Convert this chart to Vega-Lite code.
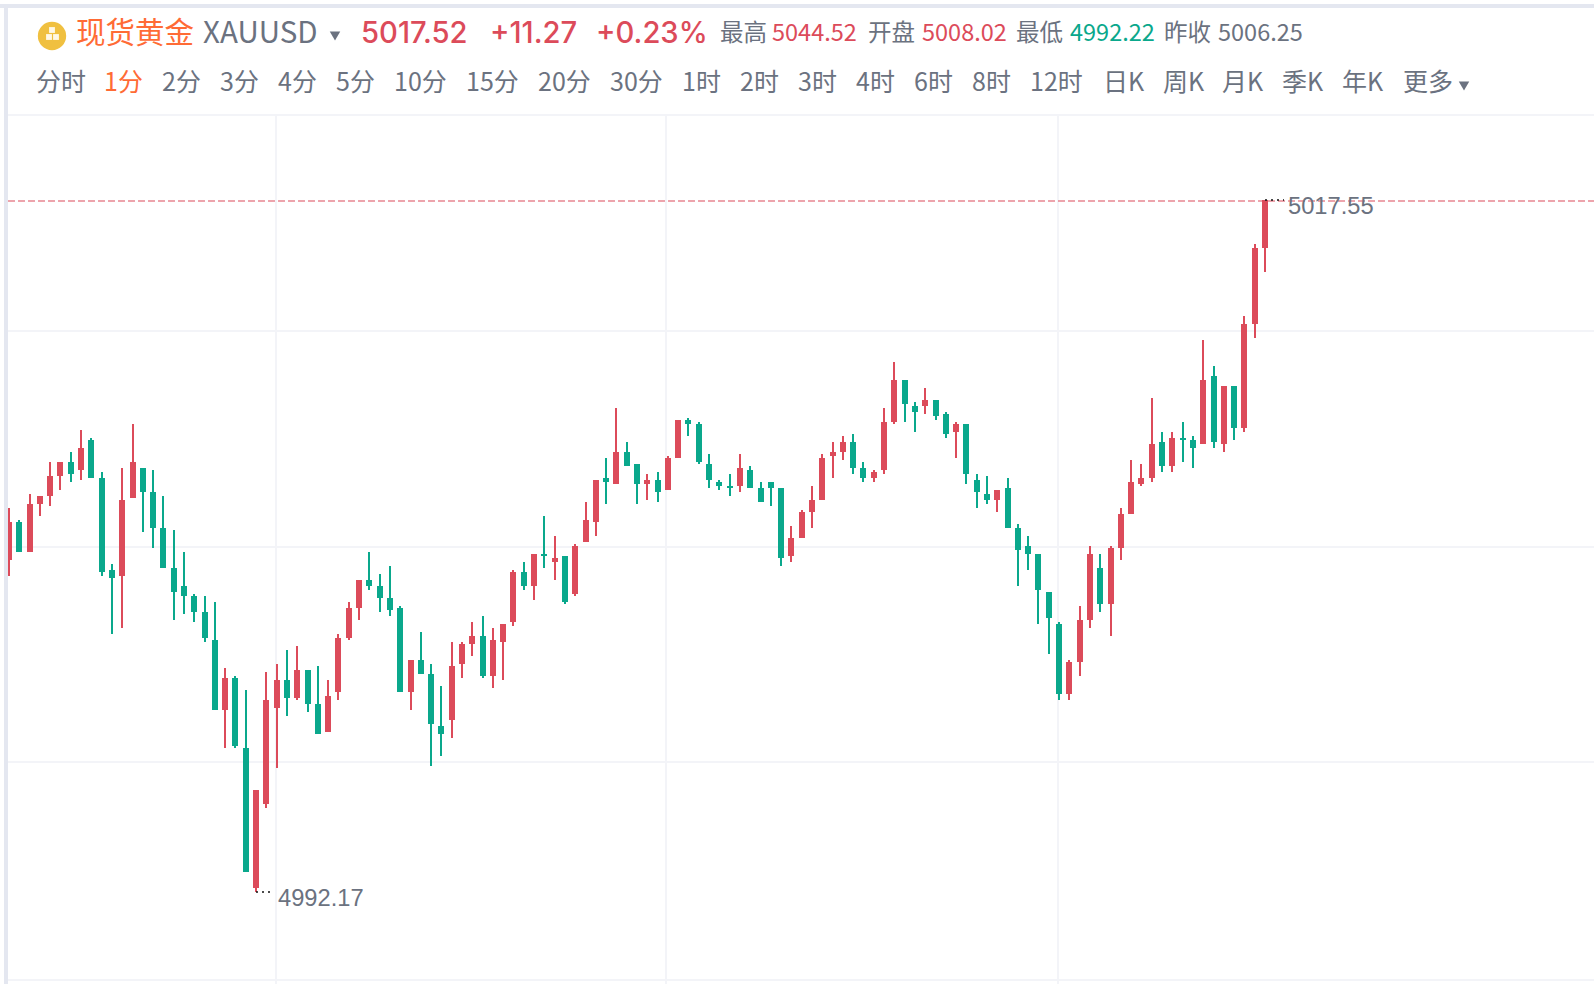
{
  "$schema": "https://vega.github.io/schema/vega-lite/v6.json",
  "description": "XAUUSD 1 minute candles",
  "width": 1594,
  "height": 984,
  "padding": 0,
  "autosize": {"type": "none"},
  "background": "#ffffff",
  "view": {"stroke": null},
  "datasets": {
    "candles": [
      {"t":0,"open":5004.35,"close":5005.74,"high":5006.25,"low":5003.76,"dir":"up"},
      {"t":1,"open":5005.74,"close":5004.64,"high":5005.81,"low":5004.64,"dir":"down"},
      {"t":2,"open":5004.64,"close":5006.40,"high":5006.77,"low":5004.64,"dir":"up"},
      {"t":3,"open":5006.40,"close":5006.69,"high":5006.69,"low":5005.96,"dir":"up"},
      {"t":4,"open":5006.69,"close":5007.43,"high":5007.94,"low":5006.33,"dir":"up"},
      {"t":5,"open":5007.43,"close":5007.94,"high":5007.94,"low":5006.91,"dir":"up"},
      {"t":6,"open":5007.94,"close":5007.50,"high":5008.31,"low":5007.20,"dir":"down"},
      {"t":7,"open":5007.65,"close":5008.45,"high":5009.11,"low":5007.28,"dir":"up"},
      {"t":8,"open":5008.74,"close":5007.35,"high":5008.82,"low":5007.35,"dir":"down"},
      {"t":9,"open":5007.35,"close":5003.91,"high":5007.57,"low":5003.76,"dir":"down"},
      {"t":10,"open":5003.98,"close":5003.68,"high":5004.20,"low":5001.63,"dir":"down"},
      {"t":11,"open":5003.76,"close":5006.55,"high":5007.72,"low":5001.85,"dir":"up"},
      {"t":12,"open":5006.62,"close":5007.94,"high":5009.33,"low":5006.62,"dir":"up"},
      {"t":13,"open":5007.72,"close":5006.84,"high":5007.72,"low":5005.37,"dir":"down"},
      {"t":14,"open":5006.84,"close":5005.52,"high":5007.65,"low":5004.79,"dir":"down"},
      {"t":15,"open":5005.52,"close":5004.05,"high":5006.69,"low":5004.05,"dir":"down"},
      {"t":16,"open":5004.05,"close":5003.17,"high":5005.45,"low":5002.15,"dir":"down"},
      {"t":17,"open":5003.39,"close":5003.03,"high":5004.64,"low":5002.37,"dir":"down"},
      {"t":18,"open":5003.03,"close":5002.44,"high":5003.10,"low":5002.07,"dir":"down"},
      {"t":19,"open":5002.44,"close":5001.49,"high":5003.03,"low":5001.34,"dir":"down"},
      {"t":20,"open":5001.41,"close":4998.85,"high":5002.81,"low":4998.85,"dir":"down"},
      {"t":21,"open":4998.85,"close":5000.02,"high":5000.39,"low":4997.45,"dir":"up"},
      {"t":22,"open":5000.02,"close":4997.53,"high":5000.09,"low":4997.45,"dir":"down"},
      {"t":23,"open":4997.45,"close":4992.90,"high":4999.58,"low":4992.90,"dir":"down"},
      {"t":24,"open":4992.32,"close":4995.91,"high":4995.91,"low":4992.17,"dir":"up"},
      {"t":25,"open":4995.40,"close":4999.21,"high":5000.24,"low":4995.25,"dir":"up"},
      {"t":26,"open":4998.92,"close":4999.95,"high":5000.53,"low":4996.72,"dir":"up"},
      {"t":27,"open":4999.95,"close":4999.29,"high":5001.05,"low":4998.63,"dir":"down"},
      {"t":28,"open":4999.29,"close":5000.31,"high":5001.19,"low":4999.21,"dir":"up"},
      {"t":29,"open":5000.31,"close":4999.07,"high":5000.31,"low":4998.77,"dir":"down"},
      {"t":30,"open":4999.07,"close":4997.96,"high":5000.46,"low":4997.96,"dir":"down"},
      {"t":31,"open":4998.04,"close":4999.36,"high":4999.95,"low":4998.04,"dir":"up"},
      {"t":32,"open":4999.51,"close":5001.49,"high":5001.63,"low":4999.21,"dir":"up"},
      {"t":33,"open":5001.49,"close":5002.59,"high":5002.81,"low":5001.41,"dir":"up"},
      {"t":34,"open":5002.59,"close":5003.61,"high":5003.61,"low":5002.15,"dir":"up"},
      {"t":35,"open":5003.61,"close":5003.39,"high":5004.64,"low":5003.25,"dir":"down"},
      {"t":36,"open":5003.39,"close":5002.95,"high":5003.83,"low":5002.44,"dir":"down"},
      {"t":37,"open":5002.95,"close":5002.51,"high":5004.13,"low":5002.29,"dir":"down"},
      {"t":38,"open":5002.59,"close":4999.51,"high":5002.66,"low":4999.51,"dir":"down"},
      {"t":39,"open":4999.51,"close":5000.68,"high":5000.68,"low":4998.85,"dir":"up"},
      {"t":40,"open":5000.68,"close":5000.17,"high":5001.71,"low":5000.17,"dir":"down"},
      {"t":41,"open":5000.17,"close":4998.33,"high":5000.53,"low":4996.79,"dir":"down"},
      {"t":42,"open":4998.26,"close":4997.96,"high":4999.73,"low":4997.16,"dir":"down"},
      {"t":43,"open":4998.48,"close":5000.46,"high":5001.34,"low":4997.82,"dir":"up"},
      {"t":44,"open":5000.53,"close":5001.27,"high":5001.34,"low":5000.02,"dir":"up"},
      {"t":45,"open":5001.27,"close":5001.56,"high":5002.07,"low":5000.83,"dir":"up"},
      {"t":46,"open":5001.56,"close":5000.09,"high":5002.29,"low":5000.02,"dir":"down"},
      {"t":47,"open":5000.09,"close":5001.41,"high":5001.85,"low":4999.65,"dir":"up"},
      {"t":48,"open":5001.34,"close":5002.00,"high":5002.00,"low":4999.95,"dir":"up"},
      {"t":49,"open":5002.07,"close":5003.91,"high":5003.98,"low":5001.93,"dir":"up"},
      {"t":50,"open":5003.91,"close":5003.39,"high":5004.27,"low":5003.25,"dir":"down"},
      {"t":51,"open":5003.39,"close":5004.57,"high":5004.57,"low":5002.88,"dir":"up"},
      {"t":52,"open":5004.57,"close":5004.49,"high":5005.96,"low":5004.05,"dir":"down"},
      {"t":53,"open":5004.27,"close":5004.42,"high":5005.23,"low":5003.61,"dir":"up"},
      {"t":54,"open":5004.49,"close":5002.81,"high":5004.49,"low":5002.73,"dir":"down"},
      {"t":55,"open":5003.10,"close":5004.86,"high":5004.93,"low":5003.03,"dir":"up"},
      {"t":56,"open":5005.01,"close":5005.81,"high":5006.47,"low":5005.01,"dir":"up"},
      {"t":57,"open":5005.74,"close":5007.28,"high":5007.28,"low":5005.23,"dir":"up"},
      {"t":58,"open":5007.35,"close":5007.20,"high":5008.09,"low":5006.40,"dir":"down"},
      {"t":59,"open":5007.13,"close":5008.31,"high":5009.92,"low":5007.13,"dir":"up"},
      {"t":60,"open":5008.31,"close":5007.79,"high":5008.67,"low":5007.79,"dir":"down"},
      {"t":61,"open":5007.87,"close":5007.13,"high":5007.87,"low":5006.40,"dir":"down"},
      {"t":62,"open":5007.13,"close":5007.28,"high":5007.50,"low":5006.55,"dir":"up"},
      {"t":63,"open":5007.28,"close":5006.84,"high":5007.57,"low":5006.47,"dir":"down"},
      {"t":64,"open":5006.91,"close":5008.09,"high":5008.16,"low":5006.91,"dir":"up"},
      {"t":65,"open":5008.09,"close":5009.48,"high":5009.48,"low":5008.09,"dir":"up"},
      {"t":66,"open":5009.48,"close":5009.33,"high":5009.55,"low":5008.89,"dir":"down"},
      {"t":67,"open":5009.33,"close":5007.94,"high":5009.41,"low":5007.87,"dir":"down"},
      {"t":68,"open":5007.87,"close":5007.28,"high":5008.23,"low":5006.98,"dir":"down"},
      {"t":69,"open":5007.20,"close":5007.06,"high":5007.28,"low":5006.91,"dir":"down"},
      {"t":70,"open":5007.06,"close":5006.98,"high":5007.50,"low":5006.69,"dir":"down"},
      {"t":71,"open":5007.06,"close":5007.72,"high":5008.23,"low":5006.84,"dir":"up"},
      {"t":72,"open":5007.65,"close":5006.98,"high":5007.79,"low":5006.98,"dir":"down"},
      {"t":73,"open":5006.98,"close":5006.47,"high":5007.20,"low":5006.47,"dir":"down"},
      {"t":74,"open":5007.20,"close":5006.98,"high":5007.20,"low":5006.33,"dir":"down"},
      {"t":75,"open":5006.98,"close":5004.42,"high":5006.98,"low":5004.13,"dir":"down"},
      {"t":76,"open":5004.49,"close":5005.15,"high":5005.59,"low":5004.27,"dir":"up"},
      {"t":77,"open":5005.15,"close":5006.11,"high":5006.18,"low":5005.15,"dir":"up"},
      {"t":78,"open":5006.11,"close":5006.55,"high":5007.06,"low":5005.52,"dir":"up"},
      {"t":79,"open":5006.55,"close":5008.09,"high":5008.23,"low":5006.55,"dir":"up"},
      {"t":80,"open":5008.16,"close":5008.31,"high":5008.67,"low":5007.35,"dir":"up"},
      {"t":81,"open":5008.31,"close":5008.67,"high":5008.89,"low":5008.01,"dir":"up"},
      {"t":82,"open":5008.67,"close":5007.72,"high":5008.97,"low":5007.50,"dir":"down"},
      {"t":83,"open":5007.72,"close":5007.35,"high":5007.94,"low":5007.20,"dir":"down"},
      {"t":84,"open":5007.35,"close":5007.57,"high":5007.65,"low":5007.20,"dir":"up"},
      {"t":85,"open":5007.65,"close":5009.41,"high":5009.92,"low":5007.50,"dir":"up"},
      {"t":86,"open":5009.41,"close":5010.95,"high":5011.61,"low":5009.33,"dir":"up"},
      {"t":87,"open":5010.95,"close":5010.07,"high":5010.95,"low":5009.41,"dir":"down"},
      {"t":88,"open":5009.99,"close":5009.78,"high":5010.14,"low":5009.04,"dir":"down"},
      {"t":89,"open":5009.99,"close":5010.21,"high":5010.66,"low":5009.70,"dir":"up"},
      {"t":90,"open":5010.21,"close":5009.63,"high":5010.21,"low":5009.48,"dir":"down"},
      {"t":91,"open":5009.70,"close":5008.97,"high":5009.78,"low":5008.82,"dir":"down"},
      {"t":92,"open":5009.04,"close":5009.33,"high":5009.41,"low":5008.09,"dir":"up"},
      {"t":93,"open":5009.33,"close":5007.50,"high":5009.33,"low":5007.13,"dir":"down"},
      {"t":94,"open":5007.28,"close":5006.84,"high":5007.50,"low":5006.25,"dir":"down"},
      {"t":95,"open":5006.77,"close":5006.55,"high":5007.43,"low":5006.40,"dir":"down"},
      {"t":96,"open":5006.55,"close":5006.91,"high":5006.91,"low":5006.11,"dir":"up"},
      {"t":97,"open":5006.98,"close":5005.52,"high":5007.35,"low":5005.52,"dir":"down"},
      {"t":98,"open":5005.52,"close":5004.71,"high":5005.67,"low":5003.39,"dir":"down"},
      {"t":99,"open":5004.86,"close":5004.57,"high":5005.23,"low":5003.98,"dir":"down"},
      {"t":100,"open":5004.57,"close":5003.25,"high":5004.57,"low":5002.00,"dir":"down"},
      {"t":101,"open":5003.17,"close":5002.22,"high":5003.17,"low":5000.90,"dir":"down"},
      {"t":102,"open":5002.00,"close":4999.43,"high":5002.07,"low":4999.21,"dir":"down"},
      {"t":103,"open":4999.43,"close":5000.61,"high":5000.68,"low":4999.21,"dir":"up"},
      {"t":104,"open":5000.61,"close":5002.15,"high":5002.66,"low":5000.09,"dir":"up"},
      {"t":105,"open":5002.15,"close":5004.57,"high":5004.86,"low":5001.85,"dir":"up"},
      {"t":106,"open":5004.05,"close":5002.73,"high":5004.57,"low":5002.44,"dir":"down"},
      {"t":107,"open":5002.73,"close":5004.79,"high":5004.86,"low":5001.56,"dir":"up"},
      {"t":108,"open":5004.79,"close":5006.03,"high":5006.25,"low":5004.35,"dir":"up"},
      {"t":109,"open":5006.03,"close":5007.20,"high":5008.01,"low":5006.03,"dir":"up"},
      {"t":110,"open":5007.13,"close":5007.35,"high":5007.87,"low":5007.06,"dir":"up"},
      {"t":111,"open":5007.35,"close":5008.60,"high":5010.29,"low":5007.20,"dir":"up"},
      {"t":112,"open":5008.67,"close":5007.79,"high":5009.04,"low":5007.57,"dir":"down"},
      {"t":113,"open":5007.79,"close":5008.82,"high":5009.04,"low":5007.57,"dir":"up"},
      {"t":114,"open":5008.82,"close":5008.74,"high":5009.41,"low":5007.94,"dir":"down"},
      {"t":115,"open":5008.74,"close":5008.45,"high":5008.89,"low":5007.72,"dir":"down"},
      {"t":116,"open":5008.60,"close":5010.95,"high":5012.41,"low":5008.60,"dir":"up"},
      {"t":117,"open":5011.09,"close":5008.67,"high":5011.46,"low":5008.45,"dir":"down"},
      {"t":118,"open":5008.60,"close":5010.73,"high":5010.73,"low":5008.31,"dir":"up"},
      {"t":119,"open":5010.73,"close":5009.19,"high":5010.73,"low":5008.74,"dir":"down"},
      {"t":120,"open":5009.19,"close":5013.00,"high":5013.30,"low":5009.04,"dir":"up"},
      {"t":121,"open":5013.00,"close":5015.79,"high":5015.94,"low":5012.49,"dir":"up"},
      {"t":122,"open":5015.79,"close":5017.55,"high":5017.55,"low":5014.91,"dir":"up"}
    ],
    "gridH": [
      {"p":5020.65,"t":-0.1,"t2":153.96},
      {"p":5012.73,"t":-0.1,"t2":153.96},
      {"p":5004.83,"t":-0.1,"t2":153.96},
      {"p":4996.94,"t":-0.1,"t2":153.96},
      {"p":4988.95,"t":-0.1,"t2":153.96}
    ],
    "gridV": [{"t":25.93},{"t":63.8},{"t":101.9}],
    "lastPrice": [{"p":5017.52,"t":-0.1,"t2":153.96}],
    "extremes": [
      {"t":122,"t2":123.85,"p":5017.55},
      {"t":24,"t2":25.74,"p":4992.17}
    ],
    "extremeLabels": [
      {"label":"5017.55","t":124.23,"p":5017.30},
      {"label":"4992.17","t":26.13,"p":4991.92}
    ],
    "frameH": [{"p":5024.665,"t":-0.8742,"t2":153.96}],
    "frameV": [{"t":-0.29}],
    "headLabels": [
      {"label":"现货黄金","t":6.55,"p":5023.64,"group":"head","tone":"accent"},
      {"label":"XAUUSD","t":18.84,"p":5023.64,"group":"head","tone":"muted"},
      {"label":"5017.52","t":34.19,"p":5023.64,"group":"quote","tone":"up"},
      {"label":"+11.27","t":46.72,"p":5023.64,"group":"quote","tone":"up"},
      {"label":"+0.23%","t":57.02,"p":5023.64,"group":"quote","tone":"up"},
      {"label":"最高","t":69.06,"p":5023.64,"group":"stat","tone":"muted"},
      {"label":"5044.52","t":74.16,"p":5023.64,"group":"stat","tone":"up"},
      {"label":"开盘","t":83.43,"p":5023.64,"group":"stat","tone":"muted"},
      {"label":"5008.02","t":88.73,"p":5023.64,"group":"stat","tone":"up"},
      {"label":"最低","t":97.81,"p":5023.64,"group":"stat","tone":"muted"},
      {"label":"4992.22","t":103.05,"p":5023.64,"group":"stat","tone":"down"},
      {"label":"昨收","t":112.18,"p":5023.64,"group":"stat","tone":"muted"},
      {"label":"5006.25","t":117.43,"p":5023.64,"group":"stat","tone":"muted"},
      {"label":"分时","t":2.62,"p":5021.84,"group":"tab","tone":"muted"},
      {"label":"1分","t":9.22,"p":5021.84,"group":"tab","tone":"accent"},
      {"label":"2分","t":14.86,"p":5021.84,"group":"tab","tone":"muted"},
      {"label":"3分","t":20.5,"p":5021.84,"group":"tab","tone":"muted"},
      {"label":"4分","t":26.13,"p":5021.84,"group":"tab","tone":"muted"},
      {"label":"5分","t":31.76,"p":5021.84,"group":"tab","tone":"muted"},
      {"label":"10分","t":37.42,"p":5021.84,"group":"tab","tone":"muted"},
      {"label":"15分","t":44.42,"p":5021.84,"group":"tab","tone":"muted"},
      {"label":"20分","t":51.38,"p":5021.84,"group":"tab","tone":"muted"},
      {"label":"30分","t":58.37,"p":5021.84,"group":"tab","tone":"muted"},
      {"label":"1时","t":65.37,"p":5021.84,"group":"tab","tone":"muted"},
      {"label":"2时","t":71.0,"p":5021.84,"group":"tab","tone":"muted"},
      {"label":"3时","t":76.64,"p":5021.84,"group":"tab","tone":"muted"},
      {"label":"4时","t":82.27,"p":5021.84,"group":"tab","tone":"muted"},
      {"label":"6时","t":87.9,"p":5021.84,"group":"tab","tone":"muted"},
      {"label":"8时","t":93.58,"p":5021.84,"group":"tab","tone":"muted"},
      {"label":"12时","t":99.17,"p":5021.84,"group":"tab","tone":"muted"},
      {"label":"日K","t":106.26,"p":5021.84,"group":"tab","tone":"muted"},
      {"label":"周K","t":112.09,"p":5021.84,"group":"tab","tone":"muted"},
      {"label":"月K","t":117.82,"p":5021.84,"group":"tab","tone":"muted"},
      {"label":"季K","t":123.64,"p":5021.84,"group":"tab","tone":"muted"},
      {"label":"年K","t":129.47,"p":5021.84,"group":"tab","tone":"muted"},
      {"label":"更多","t":135.39,"p":5021.84,"group":"tab","tone":"muted"}
    ],
    "carets": [{"t":31.66,"p":5023.56},{"t":141.32,"p":5021.73}],
    "coin": [{"t":4.18,"p":5023.565}],
    "coinBars": [{"t":4.18,"p":5023.774},{"t":3.84,"p":5023.546},{"t":4.57,"p":5023.546}]
  },
  "data": {"name": "candles"},
  "encoding": {
    "x": {"field": "t", "type": "quantitative", "axis": null, "scale": {"domain": [-0.8742, 153.96], "nice": false, "zero": false, "round": true, "padding": 0}},
    "y": {"type": "quantitative", "axis": null, "scale": {"domain": [4988.796, 5024.885], "nice": false, "zero": false, "round": true}},
    "color": {"type": "nominal", "legend": null, "scale": {"domain": ["up", "down", "muted", "accent"], "range": ["#dc4b5a", "#0aa88c", "#6b7280", "#ff6b35"]}}
  },
  "layer": [
    {
      "data": {"name": "gridH"},
      "mark": {"type": "rule", "strokeWidth": 2},
      "encoding": {
        "x2": {"field": "t2"},
        "y": {"field": "p", "type": "quantitative"},
        "color": {"value": "#f3f4f8"}
      }
    },
    {
      "data": {"name": "gridV"},
      "mark": {"type": "rule", "strokeWidth": 2},
      "encoding": {
        "y": {"datum": 5020.65},
        "y2": {"datum": 4988.796},
        "color": {"value": "#f3f4f8"}
      }
    },
    {
      "data": {"name": "lastPrice"},
      "mark": {"type": "rule", "strokeWidth": 1.2, "strokeDash": [7, 3]},
      "encoding": {
        "x2": {"field": "t2"},
        "y": {"field": "p", "type": "quantitative"},
        "color": {"value": "#dc4b5a"}
      }
    },
    {
      "mark": {"type": "rule", "strokeWidth": 2},
      "encoding": {
        "y": {"field": "high", "type": "quantitative"},
        "y2": {"field": "low"},
        "color": {"field": "dir"}
      }
    },
    {
      "mark": {"type": "bar", "width": 6},
      "encoding": {
        "y": {"field": "open", "type": "quantitative"},
        "y2": {"field": "close"},
        "color": {"field": "dir"}
      }
    },
    {
      "data": {"name": "extremes"},
      "mark": {"type": "rule", "strokeWidth": 1.5, "strokeDash": [2, 4]},
      "encoding": {
        "x2": {"field": "t2"},
        "y": {"field": "p", "type": "quantitative"},
        "color": {"value": "#111111"}
      }
    },
    {
      "data": {"name": "extremeLabels"},
      "mark": {"type": "text", "align": "left", "baseline": "middle", "font": "Liberation Sans", "fontSize": 23.7},
      "encoding": {
        "text": {"field": "label"},
        "y": {"field": "p", "type": "quantitative"},
        "color": {"value": "#6b7280"}
      }
    },
    {
      "data": {"name": "frameV"},
      "mark": {"type": "rule", "strokeWidth": 4},
      "encoding": {
        "y": {"datum": 5024.665},
        "y2": {"datum": 4988.796},
        "color": {"value": "#e4e7f0"}
      }
    },
    {
      "data": {"name": "frameH"},
      "mark": {"type": "rule", "strokeWidth": 4},
      "encoding": {
        "x2": {"field": "t2"},
        "y": {"field": "p", "type": "quantitative"},
        "color": {"value": "#e4e7f0"}
      }
    },
    {
      "data": {"name": "coin"},
      "mark": {"type": "point", "shape": "circle", "filled": true, "size": 804, "opacity": 1},
      "encoding": {
        "y": {"field": "p", "type": "quantitative"},
        "color": {"value": "#f0c040"}
      }
    },
    {
      "data": {"name": "coinBars"},
      "mark": {"type": "point", "shape": "square", "filled": true, "size": 34, "opacity": 1},
      "encoding": {
        "y": {"field": "p", "type": "quantitative"},
        "color": {"value": "#fff8e6"}
      }
    },
    {
      "data": {"name": "carets"},
      "mark": {"type": "point", "shape": "triangle-down", "filled": true, "size": 110, "opacity": 1},
      "encoding": {
        "y": {"field": "p", "type": "quantitative"},
        "color": {"value": "#6b7280"}
      }
    },
    {
      "data": {"name": "headLabels"},
      "transform": [{"filter": "datum.group === 'head'"}],
      "mark": {"type": "text", "align": "left", "baseline": "middle", "font": "Noto Sans CJK SC", "fontSize": 29.5},
      "encoding": {
        "text": {"field": "label"},
        "y": {"field": "p", "type": "quantitative"},
        "color": {"field": "tone"}
      }
    },
    {
      "data": {"name": "headLabels"},
      "transform": [{"filter": "datum.group === 'quote'"}],
      "mark": {"type": "text", "align": "left", "baseline": "middle", "font": "Inter", "fontSize": 29.2, "fontWeight": 500},
      "encoding": {
        "text": {"field": "label"},
        "y": {"field": "p", "type": "quantitative"},
        "color": {"field": "tone"}
      }
    },
    {
      "data": {"name": "headLabels"},
      "transform": [{"filter": "datum.group === 'stat'"}],
      "mark": {"type": "text", "align": "left", "baseline": "middle", "font": "Noto Sans CJK SC", "fontSize": 23.5},
      "encoding": {
        "text": {"field": "label"},
        "y": {"field": "p", "type": "quantitative"},
        "color": {"field": "tone"}
      }
    },
    {
      "data": {"name": "headLabels"},
      "transform": [{"filter": "datum.group === 'tab'"}],
      "mark": {"type": "text", "align": "left", "baseline": "middle", "font": "Noto Sans CJK SC", "fontSize": 25},
      "encoding": {
        "text": {"field": "label"},
        "y": {"field": "p", "type": "quantitative"},
        "color": {"field": "tone"}
      }
    }
  ]
}
